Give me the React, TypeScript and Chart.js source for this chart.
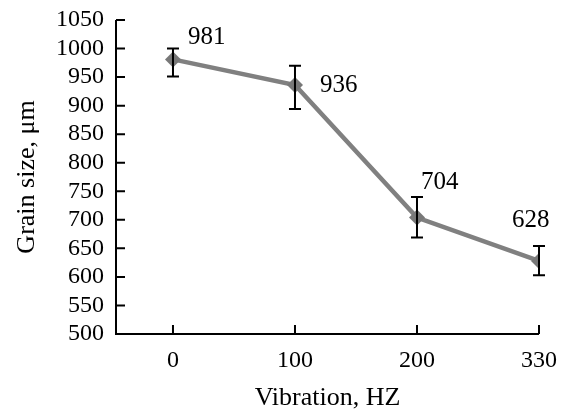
import React, { useEffect, useRef } from "react";
import { Chart, registerables } from "chart.js";

Chart.register(...registerables);

const categories = ["0", "100", "200", "330"];
const grainSize = [981, 936, 704, 628];
const errorUp = [19, 34, 36, 26];
const errorDown = [30, 42, 35, 25];
const yTicks = [500, 550, 600, 650, 700, 750, 800, 850, 900, 950, 1000, 1050];

// label placement (px offsets from each point)
const labelDx = [15, 25, 4, -27];
const labelDy = [-22, 0, -35, -40];

const FONT = "'Liberation Serif', 'Times New Roman', serif";

const decorPlugin = {
  id: "decor",
  afterDatasetsDraw(chart: any) {
    const { ctx, chartArea, scales } = chart;
    const xs = scales.x;
    const ys = scales.y;
    ctx.save();
    ctx.strokeStyle = "#000";
    ctx.lineWidth = 2;
    ctx.beginPath();
    ctx.moveTo(chartArea.left, chartArea.top);
    ctx.lineTo(chartArea.left, chartArea.bottom);
    ctx.lineTo(chartArea.right, chartArea.bottom);
    ctx.stroke();
    ctx.beginPath();
    ys.ticks.forEach((t: any) => {
      const py = ys.getPixelForValue(t.value);
      ctx.moveTo(chartArea.left, py);
      ctx.lineTo(chartArea.left + 9, py);
    });
    xs.ticks.forEach((t: any) => {
      const px = xs.getPixelForValue(t.value);
      ctx.moveTo(px, chartArea.bottom);
      ctx.lineTo(px, chartArea.bottom - 9);
    });
    ctx.stroke();
    ctx.lineWidth = 2;
    ctx.beginPath();
    grainSize.forEach((v, i) => {
      const px = xs.getPixelForValue(i);
      const top = ys.getPixelForValue(v + errorUp[i]);
      const bot = ys.getPixelForValue(v - errorDown[i]);
      ctx.moveTo(px, top);
      ctx.lineTo(px, bot);
      ctx.moveTo(px - 6, top);
      ctx.lineTo(px + 6, top);
      ctx.moveTo(px - 6, bot);
      ctx.lineTo(px + 6, bot);
    });
    ctx.stroke();
    ctx.fillStyle = "#000";
    ctx.font = `25px ${FONT}`;
    ctx.textAlign = "left";
    ctx.textBaseline = "middle";
    grainSize.forEach((v, i) => {
      const px = xs.getPixelForValue(i);
      const py = ys.getPixelForValue(v);
      ctx.fillText(String(v), px + labelDx[i], py + labelDy[i]);
    });
    ctx.restore();
  },
};

export default function App() {
  const ref = useRef<HTMLCanvasElement | null>(null);
  useEffect(() => {
    if (!ref.current) return;
    const chart = new Chart(ref.current, {
      type: "line",
      data: {
        datasets: [
          {
            data: grainSize.map((v, i) => ({ x: i, y: v })),
            borderColor: "rgb(128,128,128)",
            backgroundColor: "rgb(120,120,120)",
            borderWidth: 4.5,
            pointStyle: "rectRot",
            pointRadius: 8,
            pointBorderWidth: 0,
            pointBackgroundColor: "rgb(120,120,120)",
            tension: 0,
          },
        ],
      },
      options: {
        animation: false,
        responsive: true,
        maintainAspectRatio: false,
        layout: { padding: { top: 20, right: 25, left: 0, bottom: 0 } },
        plugins: { legend: { display: false }, tooltip: { enabled: false } },
        scales: {
          x: {
            type: "linear",
            min: -0.467,
            max: 3,
            grid: { display: false, drawTicks: false },
            border: { display: false },
            afterBuildTicks: (s: any) => {
              s.ticks = categories.map((_, i) => ({ value: i }));
            },
            afterFit: (s: any) => {
              s.height = 76;
              s.paddingLeft = 0;
              s.paddingRight = 0;
            },
            ticks: {
              padding: 12,
              autoSkip: false,
              color: "#000",
              font: { family: FONT, size: 24 },
              callback: (v: any) => categories[v] ?? "",
              maxRotation: 0,
            },
            title: {
              display: true,
              text: "Vibration, HZ",
              color: "#000",
              font: { family: FONT, size: 26 },
              padding: { top: 0, bottom: -4 },
            },
          },
          y: {
            min: 500,
            max: 1050,
            grid: { display: false, drawTicks: false },
            border: { display: false },
            afterBuildTicks: (s: any) => {
              s.ticks = yTicks.map((v) => ({ value: v }));
            },
            afterFit: (s: any) => {
              s.width = 116;
              s.paddingTop = 0;
              s.paddingBottom = 0;
            },
            ticks: {
              padding: 12,
              autoSkip: false,
              color: "#000",
              font: { family: FONT, size: 24 },
              callback: (v: any) => String(v),
            },
            title: {
              display: true,
              text: "Grain size, μm",
              color: "#000",
              font: { family: FONT, size: 26 },
              padding: { top: 12, bottom: 0 },
            },
          },
        },
      },
      plugins: [decorPlugin],
    } as any);
    return () => chart.destroy();
  }, []);
  return (
    <div style={{ position: "absolute", left: 0, top: 0, width: 564, height: 410, background: "#fff" }}>
      <canvas ref={ref} />
    </div>
  );
}
